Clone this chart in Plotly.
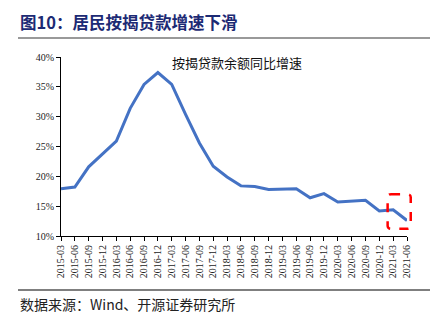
import plotly.graph_objects as go

categories = ["2015-03","2015-06","2015-09","2015-12","2016-03","2016-06","2016-09","2016-12",
              "2017-03","2017-06","2017-09","2017-12","2018-03","2018-06","2018-09","2018-12",
              "2019-03","2019-06","2019-09","2019-12","2020-03","2020-06","2020-09","2020-12",
              "2021-03","2021-06"]
growth = [17.9, 18.2, 21.6, 23.7, 25.9, 31.4, 35.4, 37.4,
          35.4, 30.4, 25.6, 21.7, 19.9, 18.4, 18.3, 17.8,
          17.8, 17.9, 16.4, 17.1, 15.7, 15.8, 16.0, 14.2,
          14.4, 12.6]
y_ticks = [10, 15, 20, 25, 30, 35, 40]
y_tick_labels = [f"{v}%" for v in y_ticks]

title_text = "图10：居民按揭贷款增速下滑"
series_name = "按揭贷款余额同比增速"
source_text = "数据来源：Wind、开源证券研究所"

x_idx = list(range(len(categories)))
YMIN, YMAX = 10, 40

W, H = 438, 326
L, R, T, B = 61, 31, 57, 90
PW, PH = W - L - R, H - T - B


def px(x):  # pixel x -> paper
    return (x - L) / PW


def py(y):  # pixel y -> paper
    return (H - B - y) / PH


fig = go.Figure()
fig.add_trace(go.Scatter(x=x_idx, y=growth, mode="lines", name=series_name,
                         line=dict(color="#4472C4", width=3), showlegend=False))

serif = "Liberation Serif, Times New Roman, Noto Sans CJK SC, serif"
cjk = "Noto Sans CJK SC, sans-serif"

fig.update_layout(
    width=W, height=H,
    margin=dict(l=L, r=R, t=T, b=B),
    paper_bgcolor="white", plot_bgcolor="white",
    xaxis=dict(range=[0, len(categories) - 1], tickvals=x_idx, ticktext=categories,
               tickangle=-90, tickfont=dict(family=serif, size=10, color="#222"),
               showline=True, linecolor="black", linewidth=1, ticks="outside",
               ticklen=4, tickcolor="black", showgrid=False, zeroline=False),
    yaxis=dict(range=[YMIN, YMAX], tickvals=y_ticks, ticktext=y_tick_labels,
               tickfont=dict(family=serif, size=10, color="#222"),
               showline=True, linecolor="black", linewidth=1, ticks="outside",
               ticklen=4, tickcolor="black", showgrid=False, zeroline=False),
)

# series label
fig.add_annotation(x=px(237), y=py(63), xref="paper", yref="paper", text=series_name,
                   showarrow=False, xanchor="center", yanchor="middle",
                   font=dict(family=cjk, size=13, color="#111"))

# title
fig.add_annotation(x=px(18), y=py(22), xref="paper", yref="paper", text="<b>" + title_text + "</b>",
                   showarrow=False, xanchor="left", yanchor="middle",
                   font=dict(family=cjk, size=16.5, color="#1c2a74"))
# header rule
fig.add_shape(type="line", xref="paper", yref="paper", x0=px(18), x1=px(430),
              y0=py(38), y1=py(38), line=dict(color="#999999", width=2))
# footer rule
fig.add_shape(type="line", xref="paper", yref="paper", x0=px(18), x1=px(430),
              y0=py(290), y1=py(290), line=dict(color="black", width=1.2))
# source
fig.add_annotation(x=px(18), y=py(304), xref="paper", yref="paper", text=source_text,
                   showarrow=False, xanchor="left", yanchor="middle",
                   font=dict(family=cjk, size=14, color="#222"))

# red dashed highlight box around the last two points (paper coords derived from data scale)
n = len(categories)
def dx(v):
    return v / (n - 1)
def dy(v):
    return (v - YMIN) / (YMAX - YMIN)
x0, x1 = dx(n - 2 - 0.4), dx(n - 1 + 0.27)
y0, y1 = dy(11.2), dy(17.0)
rx, ry = dx(0.25), 0.5 / (YMAX - YMIN)
path = (f"M {x0+rx},{y1} L {x1-rx},{y1} Q {x1},{y1} {x1},{y1-ry} L {x1},{y0+ry} "
        f"Q {x1},{y0} {x1-rx},{y0} L {x0+rx},{y0} Q {x0},{y0} {x0},{y0+ry} "
        f"L {x0},{y1-ry} Q {x0},{y1} {x0+rx},{y1} Z")
fig.add_shape(type="path", path=path, xref="paper", yref="paper",
              line=dict(color="red", width=2.5, dash="dash"))

fig.write_html("out.html")
